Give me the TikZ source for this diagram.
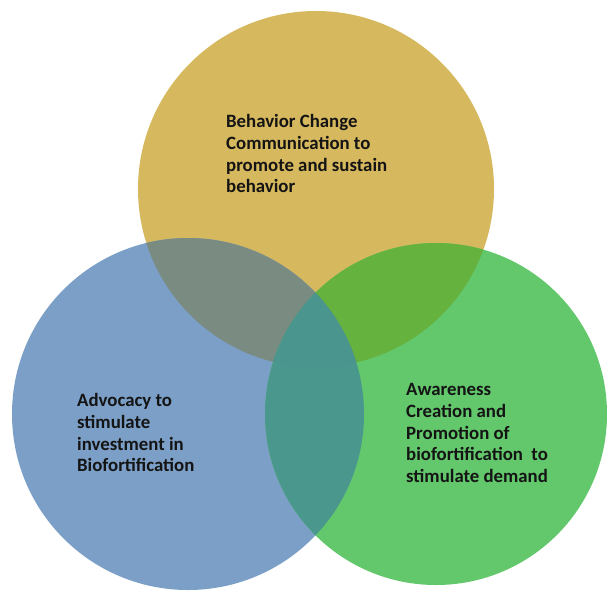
\documentclass[tikz,border=0pt]{standalone}
\usepackage{fontspec}
\setmainfont{Carlito}
\definecolor{cgold}{HTML}{D6B85E}
\definecolor{cblue}{HTML}{7B9FC6}
\definecolor{cgreen}{HTML}{63C76C}
\definecolor{cgb}{HTML}{7A8C82}
\definecolor{cgg}{HTML}{66B23E}
\definecolor{cbg}{HTML}{4A978E}
\definecolor{call}{HTML}{4A958E}
\definecolor{ctext}{HTML}{141414}
\tikzset{
  lbl/.style={anchor=north west, inner sep=0pt, align=left, font=\fontsize{18.8}{21.7}\selectfont\bfseries, text=ctext},
}
\begin{document}
\begin{tikzpicture}[x=1pt,y=-1pt]
\useasboundingbox (0,0) rectangle (608,592);
\fill[white] (0,0) rectangle (608,592);
\def\topc{(316,189) circle (178)}
\def\leftc{(188,414) circle (176)}
\def\rightc{(436,414) circle (171)}
\fill[cgold] \topc;
\fill[cblue] \leftc;
\fill[cgreen] \rightc;
\begin{scope}
  \clip \topc;
  \fill[cgb] \leftc;
  \fill[cgg] \rightc;
\end{scope}
\begin{scope}
  \clip \leftc;
  \fill[cbg] \rightc;
\end{scope}
\begin{scope}
  \clip \topc;
  \clip \leftc;
  \fill[call] \rightc;
\end{scope}
\node[lbl] (top) at (226,114.5) {Behavior Change\\Communication to\\promote and sustain\\behavior};
\node[lbl] (left) at (77,393.5) {Advocacy to\\stimulate\\investment in\\Biofortification};
\node[lbl] (right) at (406,383.5) {Awareness\\Creation and\\Promotion of\\biofortification\ \ to\\stimulate demand};
\end{tikzpicture}
\end{document}
